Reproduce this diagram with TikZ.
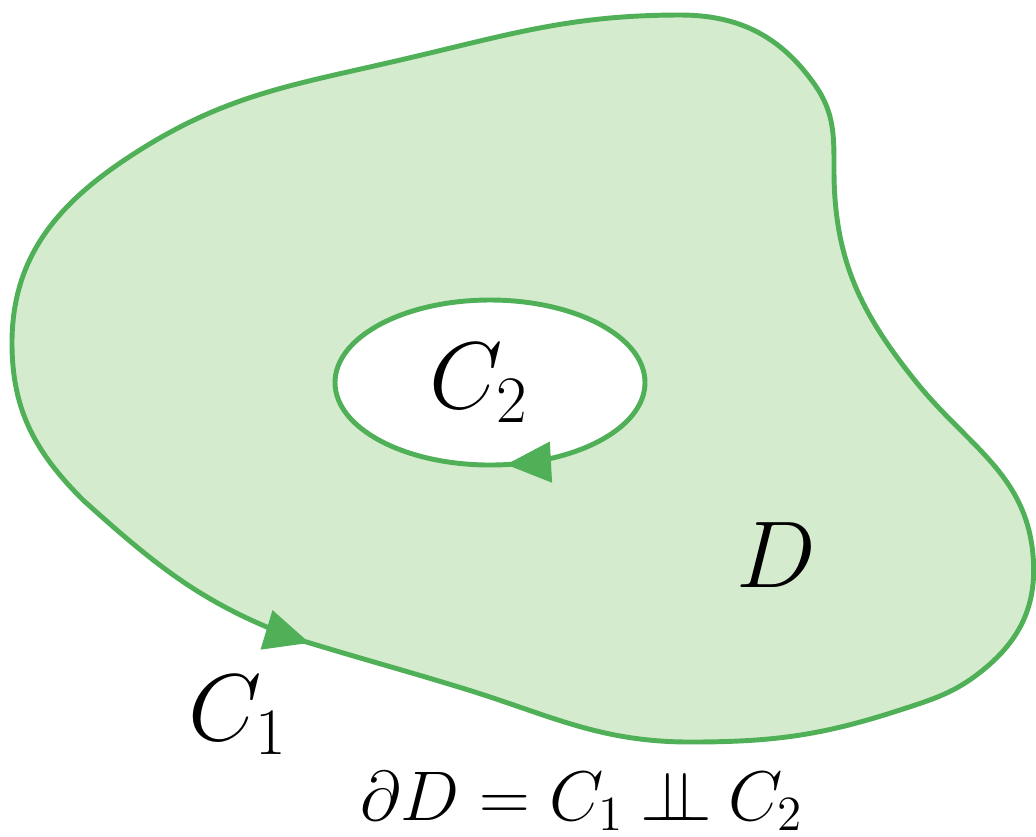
\RequirePackage{fix-cm}
\documentclass[tikz,border=0pt]{standalone}
\usepackage{amsmath, amssymb}
\usetikzlibrary{arrows.meta, decorations.markings}
\definecolor{lineg}{RGB}{80,176,88}
\definecolor{fillg}{RGB}{213,235,206}
\newcommand{\dunion}{\mathbin{\perp\mkern-9.5mu\perp}}

\begin{document}
\begin{tikzpicture}[
      bnd/.style={draw=lineg, line width=1.4pt},
      lbl/.style={font=\fontsize{27}{30}\selectfont, anchor=base, inner sep=0pt},
      eqn/.style={font=\fontsize{20}{24}\selectfont, anchor=base, inner sep=0pt},
      arrmark/.style={postaction={decorate, decoration={markings,
        mark=at position #1 with {\arrow[lineg]{Triangle[length=4.5mm, width=4mm]}}}}}]
      \useasboundingbox (0,0) rectangle (10.36,-8.36);
      % outer boundary C1, starts at its arrow
      \path[bnd, fill=fillg, arrmark=1mm] (3.0,-6.4)
        to[out=343,in=163] (4.62,-6.88) to[out=343,in=180] (6.9,-7.42)
        to[out=0,in=198] (9.0,-7.10) to[out=18,in=219] (9.83,-6.70)
        to[out=39,in=275] (10.33,-5.55) to[out=95,in=309] (9.17,-3.83)
        to[out=129,in=270] (8.34,-1.7) to[out=90,in=305] (8.15,-0.85)
        to[out=125,in=0] (6.8,-0.15) to[out=180,in=13] (3.96,-0.61)
        to[out=193,in=33] (1.32,-1.55) to[out=213,in=90] (0.12,-3.43)
        to[out=270,in=135] (0.83,-5.0) to[out=318,in=160] cycle;
      % inner hole C2
      \path[bnd, fill=white, arrmark=0.229] (6.45,-3.825)
        arc[start angle=0, end angle=-360, x radius=1.55, y radius=0.825];
      \node[lbl] (c1) at (2.38,-7.40) {$C_1$};
      \node[lbl] (c2) at (4.79,-4.08) {$C_2$};
      \node[lbl] (d)  at (7.76,-5.87) {$D$};
      \node[eqn] (bd) at (5.82,-8.20) {$\partial D = C_1 \dunion C_2$};
    \end{tikzpicture}
\end{document}
